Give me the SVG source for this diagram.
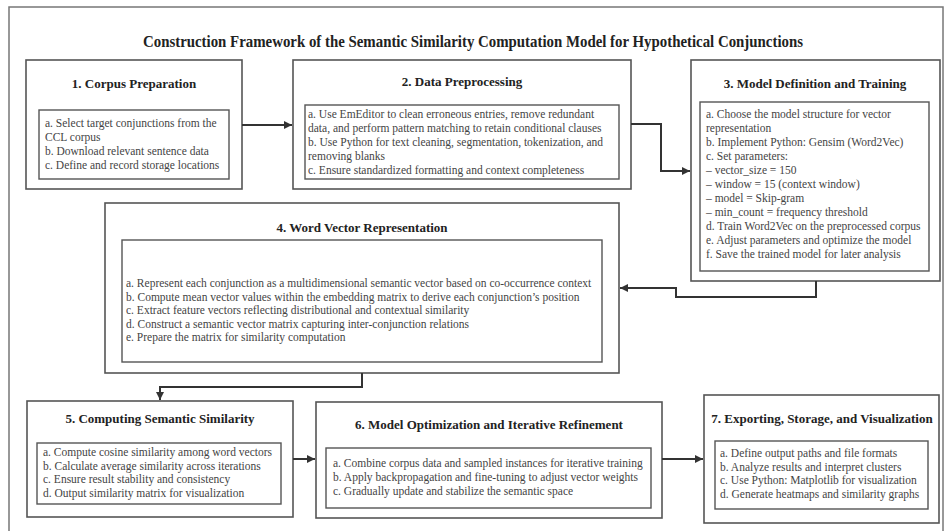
<svg xmlns="http://www.w3.org/2000/svg" width="946" height="531" viewBox="0 0 946 531">
<defs>
<marker id="ah" viewBox="0 0 10 10" refX="10" refY="5" markerWidth="9" markerHeight="8" markerUnits="userSpaceOnUse" orient="auto">
<path d="M0,0 L10,5 L0,10 z" fill="#333"/>
</marker>
<style>
.frame{fill:#fff;stroke:#777;stroke-width:1.5}
.box{fill:#fff;stroke:#555;stroke-width:1.6}
.inner{fill:#fff;stroke:#555;stroke-width:1.4}
.ttl{font-family:"Liberation Serif","Times New Roman",serif;font-weight:bold;font-size:16.5px;fill:#222;text-anchor:middle}
.hd{font-family:"Liberation Serif","Times New Roman",serif;font-weight:bold;font-size:13px;fill:#222;text-anchor:middle}
.tx{font-family:"Liberation Serif","Times New Roman",serif;font-size:11.5px;fill:#444}
.cn{fill:none;stroke:#333;stroke-width:2}
</style>
</defs>
<rect x="0" y="0" width="946" height="531" fill="#fff"/>
<rect class="frame" x="9" y="7" width="934" height="530"/>
<text class="ttl" x="473" y="47" textLength="660" lengthAdjust="spacingAndGlyphs">Construction Framework of the Semantic Similarity Computation Model for Hypothetical Conjunctions</text>

<g id="node1">
<rect class="box" x="26" y="60" width="216" height="129"/>
<text class="hd" x="134" y="88">1. Corpus Preparation</text>
<rect class="inner" x="39" y="110" width="190" height="69"/>
<text class="tx" x="45"><tspan x="45" y="127">a. Select target conjunctions from the</tspan><tspan x="45" y="141">CCL corpus</tspan><tspan x="45" y="155">b. Download relevant sentence data</tspan><tspan x="45" y="169">c. Define and record storage locations</tspan></text>
</g>

<g id="node2">
<rect class="box" x="293" y="60" width="338" height="129"/>
<text class="hd" x="462" y="86">2. Data Preprocessing</text>
<rect class="inner" x="305" y="105" width="314" height="74"/>
<text class="tx"><tspan x="308" y="118">a. Use EmEditor to clean erroneous entries, remove redundant</tspan><tspan x="308" y="132">data, and perform pattern matching to retain conditional clauses</tspan><tspan x="308" y="146">b. Use Python for text cleaning, segmentation, tokenization, and</tspan><tspan x="308" y="160">removing blanks</tspan><tspan x="308" y="174">c. Ensure standardized formatting and context completeness</tspan></text>
</g>

<g id="node3">
<rect class="box" x="691" y="60" width="249" height="221"/>
<text class="hd" x="815" y="88">3. Model Definition and Training</text>
<rect class="inner" x="700" y="102" width="229" height="169"/>
<text class="tx"><tspan x="706" y="118">a. Choose the model structure for vector</tspan><tspan x="706" y="132">representation</tspan><tspan x="706" y="146">b. Implement Python: Gensim (Word2Vec)</tspan><tspan x="706" y="160">c. Set parameters:</tspan><tspan x="706" y="174">– vector_size = 150</tspan><tspan x="706" y="188">– window = 15 (context window)</tspan><tspan x="706" y="202">– model = Skip-gram</tspan><tspan x="706" y="216">– min_count = frequency threshold</tspan><tspan x="706" y="230">d. Train Word2Vec on the preprocessed corpus</tspan><tspan x="706" y="244">e. Adjust parameters and optimize the model</tspan><tspan x="706" y="258">f. Save the trained model for later analysis</tspan></text>
</g>

<g id="node4">
<rect class="box" x="105" y="203" width="514" height="170"/>
<text class="hd" x="362" y="232">4. Word Vector Representation</text>
<rect class="inner" x="122" y="240" width="480" height="122"/>
<text class="tx"><tspan x="126" y="287">a. Represent each conjunction as a multidimensional semantic vector based on co-occurrence context</tspan><tspan x="126" y="300.5">b. Compute mean vector values within the embedding matrix to derive each conjunction’s position</tspan><tspan x="126" y="314">c. Extract feature vectors reflecting distributional and contextual similarity</tspan><tspan x="126" y="327.5">d. Construct a semantic vector matrix capturing inter-conjunction relations</tspan><tspan x="126" y="341">e. Prepare the matrix for similarity computation</tspan></text>
</g>

<g id="node5">
<rect class="box" x="27" y="401" width="266" height="116"/>
<text class="hd" x="160" y="423">5. Computing Semantic Similarity</text>
<rect class="inner" x="37" y="443" width="244" height="61"/>
<text class="tx"><tspan x="43" y="456">a. Compute cosine similarity among word vectors</tspan><tspan x="43" y="469.5">b. Calculate average similarity across iterations</tspan><tspan x="43" y="483">c. Ensure result stability and consistency</tspan><tspan x="43" y="496.5">d. Output similarity matrix for visualization</tspan></text>
</g>

<g id="node6">
<rect class="box" x="316" y="402" width="346" height="116"/>
<text class="hd" x="489" y="429">6. Model Optimization and Iterative Refinement</text>
<rect class="inner" x="326" y="448" width="325" height="60"/>
<text class="tx"><tspan x="333" y="467">a. Combine corpus data and sampled instances for iterative training</tspan><tspan x="333" y="481">b. Apply backpropagation and fine-tuning to adjust vector weights</tspan><tspan x="333" y="495">c. Gradually update and stabilize the semantic space</tspan></text>
</g>

<g id="node7">
<rect class="box" x="704" y="395" width="235" height="128"/>
<text class="hd" x="822" y="423">7. Exporting, Storage, and Visualization</text>
<rect class="inner" x="715" y="441" width="213" height="68"/>
<text class="tx"><tspan x="720" y="457">a. Define output paths and file formats</tspan><tspan x="720" y="470.5">b. Analyze results and interpret clusters</tspan><tspan x="720" y="484">c. Use Python: Matplotlib for visualization</tspan><tspan x="720" y="497.5">d. Generate heatmaps and similarity graphs</tspan></text>
</g>

<g id="connectors">
<path class="cn" d="M242,125 L292,125" marker-end="url(#ah)"/>
<path class="cn" d="M631,124 L661,124 L661,171 L690,171" marker-end="url(#ah)"/>
<path class="cn" d="M816,281 L816,297 L676,297 L676,288 L620,288" marker-end="url(#ah)"/>
<path class="cn" d="M362,373 L362,387 L160,387 L160,400" marker-end="url(#ah)"/>
<path class="cn" d="M293,459 L315,459" marker-end="url(#ah)"/>
<path class="cn" d="M662,459 L703,459" marker-end="url(#ah)"/>
</g>
</svg>
